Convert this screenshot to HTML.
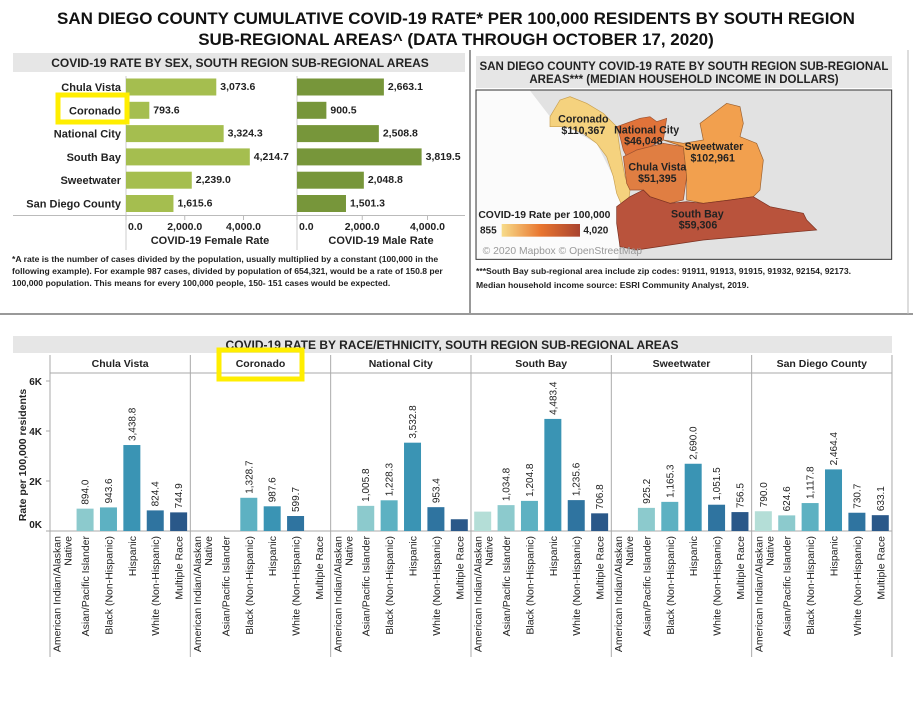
<!DOCTYPE html>
<html><head><meta charset="utf-8">
<style>
body{margin:0;background:#fff;width:913px;height:709px;overflow:hidden;font-family:"Liberation Sans",Arial,sans-serif}
svg{position:absolute;left:0;top:0}
text{font-family:"Liberation Sans",Arial,sans-serif}
</style></head>
<body>
<svg id="page" width="913" height="709">
  <text x="456" y="24" text-anchor="middle" font-size="17" font-weight="bold" fill="#111">SAN DIEGO COUNTY CUMULATIVE COVID-19 RATE* PER 100,000 RESIDENTS BY SOUTH REGION</text>
  <text x="456" y="45" text-anchor="middle" font-size="17" font-weight="bold" fill="#111">SUB-REGIONAL AREAS^ (DATA THROUGH OCTOBER 17, 2020)</text>
  <line x1="470" y1="50" x2="470" y2="314" stroke="#999" stroke-width="2"/>
  <line x1="0" y1="314" x2="913" y2="314" stroke="#999" stroke-width="2"/>
  <line x1="908" y1="50" x2="908" y2="314" stroke="#bbb" stroke-width="1"/>

  <!-- sex chart -->
  <rect x="13" y="53" width="452" height="19" fill="#e6e6e6"/>
  <text x="240" y="67" text-anchor="middle" font-size="12" font-weight="bold" fill="#222">COVID-19 RATE BY SEX, SOUTH REGION SUB-REGIONAL AREAS</text>
  <g id="sexChart"></g>
  <rect x="58" y="95" width="69" height="27" fill="none" stroke="#ffee00" stroke-width="5"/>
  <text x="12" y="262" font-size="8.6" font-weight="bold" fill="#222">*A rate is the number of cases divided by the population, usually multiplied by a constant (100,000 in the</text>
  <text x="12" y="274" font-size="8.6" font-weight="bold" fill="#222">following example). For example 987 cases, divided by population of 654,321, would be a rate of 150.8 per</text>
  <text x="12" y="286" font-size="8.6" font-weight="bold" fill="#222">100,000 population. This means for every 100,000 people, 150- 151 cases would be expected.</text>

  <!-- map -->
  <rect x="476" y="56" width="416" height="32" fill="#e6e6e6"/>
  <text x="684" y="70" text-anchor="middle" font-size="11.5" font-weight="bold" fill="#222">SAN DIEGO COUNTY COVID-19 RATE BY SOUTH REGION SUB-REGIONAL</text>
  <text x="684" y="83" text-anchor="middle" font-size="11.5" font-weight="bold" fill="#222">AREAS*** (MEDIAN HOUSEHOLD INCOME IN DOLLARS)</text>
  <svg x="470" y="50" width="443" height="250" viewBox="0 0 1329 750">
    <rect x="18" y="120" width="1247" height="508" fill="#e2e2e2" stroke="#333" stroke-width="3"/>
    <path d="M20 122 L180 122 L240 200 L290 230 L380 280 L430 380 L455 465 L445 626 L20 626 Z" fill="#fbfbfb"/>
    <path d="M240 200 L270 150 L300 140 L350 160 L400 190 L440 230 L450 300 L465 380 L480 420 L475 460 L455 465 L440 430 L430 380 L410 320 L380 280 L340 250 L290 230 L240 230 Z" fill="#f5d27e" stroke="#c9a050" stroke-width="2"/>
    <path d="M440 230 L510 205 L540 200 L560 215 L590 205 L580 270 L540 290 L500 300 L470 320 L460 300 L450 260 Z" fill="#e0733a" stroke="#9a5030" stroke-width="2"/>
    <path d="M460 320 L500 300 L580 280 L640 290 L650 380 L640 450 L600 460 L540 440 L520 420 L480 420 L470 400 Z" fill="#e07e42" stroke="#9a5030" stroke-width="2"/>
    <path d="M580 270 L640 280 L700 270 L690 220 L730 190 L770 160 L810 170 L820 220 L810 260 L860 280 L880 330 L870 420 L850 440 L780 450 L700 460 L650 450 L650 380 L640 290 Z" fill="#f2a04e" stroke="#9a6030" stroke-width="2"/>
    <path d="M440 470 L480 440 L520 420 L540 440 L600 460 L650 455 L700 460 L780 450 L850 440 L900 470 L1000 490 L1010 510 L1040 540 L700 570 L500 600 L450 590 L440 520 Z" fill="#b9533c" stroke="#7a3020" stroke-width="2"/>
    <g font-size="32" font-weight="bold" fill="#222" text-anchor="middle">
      <text x="340" y="218">Coronado</text>
      <text x="340" y="252">$110,367</text>
      <text x="530" y="250">National City</text>
      <text x="520" y="284">$46,048</text>
      <text x="732" y="300">Sweetwater</text>
      <text x="728" y="334">$102,961</text>
      <text x="562" y="362">Chula Vista</text>
      <text x="562" y="396">$51,395</text>
      <text x="682" y="502">South Bay</text>
      <text x="684" y="536">$59,306</text>
    </g>
    <defs><linearGradient id="lg" x1="0" x2="1"><stop offset="0" stop-color="#f7dc8a"/><stop offset="0.5" stop-color="#e8752f"/><stop offset="1" stop-color="#a9432f"/></linearGradient></defs>
    <text x="25" y="504" font-size="31" font-weight="bold" fill="#222">COVID-19 Rate per 100,000</text>
    <rect x="95" y="522" width="235" height="38" fill="url(#lg)"/>
    <text x="30" y="550" font-size="30" font-weight="bold" fill="#222">855</text>
    <text x="340" y="550" font-size="30" font-weight="bold" fill="#222">4,020</text>
    <text x="38" y="612" font-size="31" fill="#999">© 2020 Mapbox © OpenStreetMap</text>
  </svg>
  <text x="476" y="274" font-size="8.6" font-weight="bold" fill="#222">***South Bay sub-regional area include zip codes: 91911, 91913, 91915, 91932, 92154, 92173.</text>
  <text x="476" y="288" font-size="8.6" font-weight="bold" fill="#222">Median household income source: ESRI Community Analyst, 2019.</text>

  <!-- race chart -->
  <rect x="13" y="336" width="879" height="17" fill="#e6e6e6"/>
  <text x="452" y="349" text-anchor="middle" font-size="12" font-weight="bold" fill="#222">COVID-19 RATE BY RACE/ETHNICITY, SOUTH REGION SUB-REGIONAL AREAS</text>
  <g id="raceChart"></g>
  <rect x="219" y="350" width="83" height="29" fill="none" stroke="#ffee00" stroke-width="5"/>
</svg>
<script>
// ---- sex chart data ----
const sexAreas = ["Chula Vista","Coronado","National City","South Bay","Sweetwater","San Diego County"];
const femaleRates = [3073.6, 793.6, 3324.3, 4214.7, 2239.0, 1615.6];
const maleRates = [2663.1, 900.5, 2508.8, 3819.5, 2048.8, 1501.3];
const sexTicks = [0, 2000, 4000];

// ---- race chart data ----
const raceAreas = ["Chula Vista","Coronado","National City","South Bay","Sweetwater","San Diego County"];
const raceCats = ["American Indian/Alaskan Native","Asian/Pacific Islander","Black (Non-Hispanic)","Hispanic","White (Non-Hispanic)","Multiple Race"];
const raceCV = [null, 894.0, 943.6, 3438.8, 824.4, 744.9];
const raceCO = [null, null, 1328.7, 987.6, 599.7, null];
const raceNC = [null, 1005.8, 1228.3, 3532.8, 953.4, 470];
const raceSB = [775, 1034.8, 1204.8, 4483.4, 1235.6, 706.8];
const raceSW = [null, 925.2, 1165.3, 2690.0, 1051.5, 756.5];
const raceSD = [790.0, 624.6, 1117.8, 2464.4, 730.7, 633.1];
const raceShowLabel = [[0,1,1,1,1,1],[0,0,1,1,1,0],[0,1,1,1,1,0],[0,1,1,1,1,1],[0,1,1,1,1,1],[1,1,1,1,1,1]];
const raceTicks = [0, 2000, 4000, 6000];
const raceTickLabels = ["0K","2K","4K","6K"];

const NS = "http://www.w3.org/2000/svg";
function mk(parent, tag, attrs, txt){const e=document.createElementNS(NS,tag);for(const k in attrs)e.setAttribute(k,attrs[k]);if(txt!=null)e.textContent=txt;parent.appendChild(e);return e;}
const fmt = v => v.toLocaleString("en-US",{minimumFractionDigits:1,maximumFractionDigits:1});

// sex chart
(function(){
  const g=document.getElementById("sexChart");
  const rowY = i => 87 + i*23.3;
  const fx = v => 126 + v/4000*117.5;
  const mx = v => 297 + v/4000*130.5;
  mk(g,"line",{x1:13,y1:215.5,x2:465,y2:215.5,stroke:"#bbb"});
  [126,297].forEach(x=>mk(g,"line",{x1:x,y1:76,x2:x,y2:250,stroke:"#ccc"}));
  sexAreas.forEach((a,i)=>{
    const t=mk(g,"text",{x:121,y:rowY(i)+4,"text-anchor":"end","font-size":11,"font-weight":"bold",fill:"#222"},a);
    
    
    const fb=mk(g,"rect",{x:fx(0),y:rowY(i)-8.5,width:fx(femaleRates[i])-fx(0),height:17,fill:"#a5be4f"});
    
    
    const fl=mk(g,"text",{x:fx(femaleRates[i])+4,y:rowY(i)+3,"font-size":10.5,"font-weight":"bold",fill:"#222"},fmt(femaleRates[i]));
    
    
    const mb=mk(g,"rect",{x:mx(0),y:rowY(i)-8.5,width:mx(maleRates[i])-mx(0),height:17,fill:"#77963a"});
    
    
    const ml=mk(g,"text",{x:mx(maleRates[i])+4,y:rowY(i)+3,"font-size":10.5,"font-weight":"bold",fill:"#222"},fmt(maleRates[i]));
    
    
  });
  sexTicks.forEach(v=>{
    mk(g,"line",{x1:fx(v),y1:215,x2:fx(v),y2:220,stroke:"#bbb"});
    mk(g,"line",{x1:mx(v),y1:215,x2:mx(v),y2:220,stroke:"#bbb"});
    const a=mk(g,"text",{x:v===0?fx(v)+2:fx(v),y:230,"text-anchor":v===0?"start":"middle","font-size":10.5,"font-weight":"bold",fill:"#222"},fmt(v));
    
    
    const b=mk(g,"text",{x:v===0?mx(v)+2:mx(v),y:230,"text-anchor":v===0?"start":"middle","font-size":10.5,"font-weight":"bold",fill:"#222"},fmt(v));
    
    
  });
  const t1=mk(g,"text",{x:210,y:244,"text-anchor":"middle","font-size":11,"font-weight":"bold",fill:"#222"},"COVID-19 Female Rate");
  
  
  const t2=mk(g,"text",{x:381,y:244,"text-anchor":"middle","font-size":11,"font-weight":"bold",fill:"#222"},"COVID-19 Male Rate");
  
  
})();

// race chart
(function(){
  const g=document.getElementById("raceChart");
  const series=[raceCV,raceCO,raceNC,raceSB,raceSW,raceSD];
  const colors=["#b4ded7","#8ccacd","#5db1c2","#3a94b4","#2f74a0","#2a5889"];
  const x0=50, pw=140.33, base=531;
  const y = v => base - v/1000*25;
  mk(g,"line",{x1:x0,y1:373,x2:892,y2:373,stroke:"#aaa"});
  mk(g,"line",{x1:x0,y1:355,x2:x0,y2:657,stroke:"#aaa"});
  mk(g,"line",{x1:x0,y1:base,x2:892,y2:base,stroke:"#aaa"});
  raceTicks.forEach((v,i)=>{
    mk(g,"line",{x1:x0-4,y1:y(v),x2:x0,y2:y(v),stroke:"#aaa"});
    const t=mk(g,"text",{x:x0-8,y:i===0?y(v)-3:y(v)+4,"text-anchor":"end","font-size":10,"font-weight":"bold",fill:"#222"},raceTickLabels[i]);
    
    
  });
  const yt=mk(g,"text",{x:0,y:0,transform:"translate(26,455) rotate(-90)","text-anchor":"middle","font-size":10.5,"font-weight":"bold",fill:"#222"},"Rate per 100,000 residents");
  
  
  raceAreas.forEach((a,p)=>{
    const px=x0+p*pw;
    mk(g,"line",{x1:px+pw,y1:355,x2:px+pw,y2:657,stroke:"#aaa"});
    const h=mk(g,"text",{x:px+pw/2,y:367,"text-anchor":"middle","font-size":10.5,"font-weight":"bold",fill:"#222"},a);
    
    
    const sw=pw/6;
    raceCats.forEach((c,i)=>{
      const cx=px+sw*i+sw/2;
      const v=series[p][i];
      if(v!=null){
        const r=mk(g,"rect",{x:cx-8.5,y:y(v),width:17,height:base-y(v),fill:colors[i]});
        
        
        if(raceShowLabel[p][i]){
          const l=mk(g,"text",{x:0,y:0,transform:`translate(${cx+3.5},${y(v)-4}) rotate(-90)`,"font-size":10,fill:"#222"},fmt(v));
          
          
        }
      }
      if(i===0){
        const l1=mk(g,"text",{x:0,y:0,transform:`translate(${cx-1},536) rotate(-90)`,"text-anchor":"end","font-size":10.5,fill:"#222"},"American Indian/Alaskan");
        
        
        const l2=mk(g,"text",{x:0,y:0,transform:`translate(${cx+10},536) rotate(-90)`,"text-anchor":"end","font-size":10.5,fill:"#222"},"Native");
        
        
      } else {
        const l=mk(g,"text",{x:0,y:0,transform:`translate(${cx+4},536) rotate(-90)`,"text-anchor":"end","font-size":10.5,fill:"#222"},c);
        
        
      }
    });
  });
})();
</script>
</body></html>
